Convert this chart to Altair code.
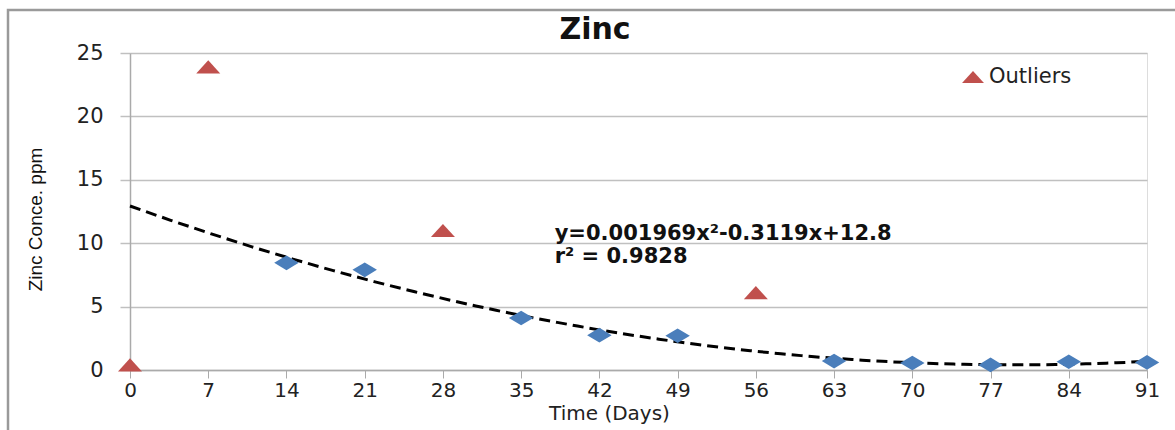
import altair as alt
import pandas as pd

# Data
days_main = [14, 21, 35, 42, 49, 63, 70, 77, 84, 91]
zinc_main = [8.45, 7.9, 4.1, 2.75, 2.7, 0.7, 0.55, 0.4, 0.65, 0.6]

days_out = [0, 7, 28, 56]
zinc_out = [0.4, 23.9, 11.0, 6.1]

x_ticks = list(range(0, 92, 7))
y_ticks = [0, 5, 10, 15, 20, 25]

eq_lines = ["y=0.001969x\u00b2-0.3119x+12.8", "r\u00b2 = 0.9828"]
eq_x = [38.0, 38.0]
eq_y = [10.75, 8.95]

chart_title = ["Zinc"]

main_df = pd.DataFrame({"day": days_main, "zinc": zinc_main})
out_df = pd.DataFrame({"day": days_out, "zinc": zinc_out, "series": ["Outliers"] * len(days_out)})
eq_df = pd.DataFrame({"label": eq_lines, "day": eq_x, "zinc": eq_y})
title_df = pd.DataFrame({"t": chart_title})

FONT = "DejaVu Sans"
W, H = 1017, 317

diamond = "M-1,0L0,-0.6L1,0L0,0.6Z"
triangle = "M-1,0.55L0,-0.55L1,0.55Z"

xscale = alt.Scale(domain=[0, 91], nice=False, zero=False)
yscale = alt.Scale(domain=[0, 25], nice=False)

xaxis = alt.Axis(values=x_ticks, title="Time (Days)", grid=False, labelFontSize=20,
                 labelColor="#222", labelFont=FONT, labelPadding=2, tickSize=8,
                 labelFlush=False, labelOverlap=False,
                 tickColor="#aaa", domainColor="#aaa", domainWidth=1.5,
                 titleFontSize=20, titleFont=FONT, titleFontWeight="normal",
                 titleColor="#222", titleX=479, titleY=43, titleBaseline="middle",
                 titleAnchor="start", titleAlign="center")
yaxis = alt.Axis(values=y_ticks, title="Zinc Conce. ppm", grid=True, gridColor="#c0c0c0",
                 gridWidth=1.5, labelFontSize=21, labelColor="#222", labelFont=FONT,
                 labelPadding=17, tickSize=10, tickColor="#c0c0c0", tickWidth=1.5,
                 labelFlush=False,
                 domainColor="#aaa", domainWidth=1.5,
                 titleFontSize=19, titleFont="Liberation Sans Narrow, Liberation Sans",
                 titleFontWeight="normal", titleColor="#111", titleX=-95, titleY=166,
                 titleAngle=270, titleBaseline="middle", titleAlign="center")

base_main = alt.Chart(main_df)

trend = base_main.transform_regression(
    "day", "zinc", method="poly", order=2, extent=[0, 91]
).mark_line(color="black", strokeDash=[11, 6], strokeWidth=3).encode(
    x=alt.X("day:Q", scale=xscale, axis=xaxis),
    y=alt.Y("zinc:Q", scale=yscale, axis=yaxis),
)

points = base_main.mark_point(filled=True, opacity=1, shape=diamond, size=600,
                              color="#4A7EBB").encode(
    x=alt.X("day:Q", scale=xscale),
    y=alt.Y("zinc:Q", scale=yscale),
)

outliers = alt.Chart(out_df).mark_point(filled=True, opacity=1, size=576).encode(
    x=alt.X("day:Q", scale=xscale),
    y=alt.Y("zinc:Q", scale=yscale),
    color=alt.Color("series:N", scale=alt.Scale(domain=["Outliers"], range=["#C0504D"]),
                    legend=alt.Legend(orient="none", legendX=832, legendY=13, title=None,
                                      labelFontSize=21, labelFont=FONT, labelColor="#222",
                                      symbolSize=480, symbolType=triangle,
                                      symbolFillColor="#C0504D", symbolStrokeWidth=0,
                                      symbolOpacity=1, labelOffset=5)),
    shape=alt.Shape("series:N", scale=alt.Scale(domain=["Outliers"], range=[triangle]),
                    legend=None),
)

eq = alt.Chart(eq_df).mark_text(align="left", baseline="middle", fontSize=21,
                                 fontWeight="bold", font=FONT, color="#111").encode(
    x=alt.X("day:Q", scale=xscale),
    y=alt.Y("zinc:Q", scale=yscale),
    text="label:N",
)

title = alt.Chart(title_df).mark_text(align="center", baseline="middle", fontSize=30,
                                       fontWeight="bold", font=FONT, color="#111").encode(
    x=alt.value(465), y=alt.value(-23), text="t:N"
)

frame = alt.Chart(pd.DataFrame({"k": [0]})).mark_rect(
    fillOpacity=0, stroke="#9a9a9a", strokeWidth=2.5
).encode(x=alt.value(-122), x2=alt.value(1080), y=alt.value(-43), y2=alt.value(420))

chart = alt.layer(frame, trend, points, outliers, eq, title).properties(
    width=W, height=H,
    autosize=alt.AutoSizeParams(type="none"),
    padding={"left": 130, "top": 53, "right": 28, "bottom": 60},
).configure_view(stroke=None).configure(background="white")

chart.save("out.html", embed_options={"renderer": "svg", "actions": False})
